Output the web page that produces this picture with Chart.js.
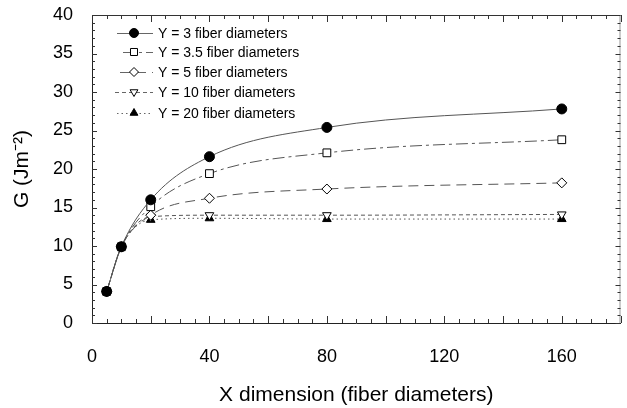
<!DOCTYPE html>
<html>
<head>
<meta charset="utf-8">
<script src="https://cdn.jsdelivr.net/npm/chart.js@4.4.0/dist/chart.umd.min.js"></script>
<style>
    html, body { margin: 0; padding: 0; background: #fff; }
    #wrap { width: 627px; height: 408px; }
</style>
</head>
<body>
<div id="wrap"><canvas id="chart" width="627" height="408"></canvas></div>
<script>
// x positions (fiber diameters)
const xValues = [5, 10, 20, 40, 80, 160];

const seriesNames = [
    'Y = 3 fiber diameters',
    'Y = 3.5 fiber diameters',
    'Y = 5 fiber diameters',
    'Y = 10 fiber diameters',
    'Y = 20 fiber diameters'
];

const gY3 = [4.1, 9.9, 16.0, 21.6, 25.4, 27.8];
const gY35 = [4.1, 9.9, 15.1, 19.4, 22.1, 23.8];
const gY5 = [4.1, 9.9, 14.0, 16.2, 17.4, 18.2];
const gY10 = [4.1, 9.9, 13.8, 14.0, 14.0, 14.1];
const gY20 = [4.1, 9.9, 13.4, 13.6, 13.5, 13.5];

const xTickLabels = [0, 40, 80, 120, 160];

const FONT = "'Liberation Sans', Arial, sans-serif";

const styles = [
    { dash: [], point: 'circle', fill: '#000', rot: 0, r: 5 },
    { dash: [12, 4, 3, 4], point: 'rect', fill: '#fff', rot: 0, r: 5.5 },
    { dash: [10, 6], point: 'rectRot', fill: '#fff', rot: 0, r: 5 },
    { dash: [4, 3], point: 'triangle', fill: '#fff', rot: 180, r: 5 },
    { dash: [1.5, 3], point: 'triangle', fill: '#000', rot: 0, r: 5 }
];

const allSeries = [gY3, gY35, gY5, gY10, gY20];

const datasets = allSeries.map((vals, i) => ({
    label: seriesNames[i],
    data: xValues.map((x, k) => ({ x: x, y: vals[k] })),
    borderColor: '#555',
    borderWidth: 1,
    borderDash: styles[i].dash,
    cubicInterpolationMode: 'monotone',
    pointStyle: styles[i].point,
    pointRotation: styles[i].rot,
    pointRadius: styles[i].r,
    pointBackgroundColor: styles[i].fill,
    pointBorderColor: '#000',
    pointBorderWidth: 1,
    fill: false
}));

// inward tick marks, frame and legend inside the plot
const decorations = {
    id: 'decorations',
    afterDraw(chart) {
        const ctx = chart.ctx;
        const area = chart.chartArea;
        const xs = chart.scales.x;
        const ys = chart.scales.y;
        ctx.save();
        ctx.strokeStyle = '#333';
        ctx.lineWidth = 1;
        ctx.setLineDash([]);

        // frame top / right
        ctx.beginPath();
        ctx.moveTo(area.left, area.top + 0.5);
        ctx.lineTo(area.right, area.top + 0.5);
        ctx.stroke();
        ctx.strokeStyle = '#999';
        ctx.beginPath();
        ctx.moveTo(area.right - 0.5, area.top);
        ctx.lineTo(area.right - 0.5, area.bottom);
        ctx.stroke();
        ctx.strokeStyle = '#333';

        // x ticks every 5, longer every 20
        for (let v = 0; v <= 180; v += 5) {
            const px = Math.round(xs.getPixelForValue(v)) + 0.5;
            const len = v % 20 === 0 ? 7 : 4;
            ctx.beginPath();
            ctx.moveTo(px, area.bottom);
            ctx.lineTo(px, area.bottom - len);
            ctx.moveTo(px, area.top);
            ctx.lineTo(px, area.top + len);
            ctx.stroke();
        }
        // y ticks every 1, longer every 5
        for (let v = 0; v <= 40; v += 1) {
            const py = Math.round(ys.getPixelForValue(v)) + 0.5;
            const len = v % 5 === 0 ? 5 : 3;
            ctx.beginPath();
            ctx.moveTo(area.left, py);
            ctx.lineTo(area.left + len, py);
            ctx.moveTo(area.right, py);
            ctx.lineTo(area.right - len, py);
            ctx.stroke();
        }

        // legend
        const rowsY = [33, 52, 72, 92, 113];
        const lineStart = [117, 123, 120, 115, 117];
        ctx.font = '14px ' + FONT;
        ctx.textBaseline = 'middle';
        ctx.textAlign = 'left';
        chart.data.datasets.forEach((ds, i) => {
            const y = rowsY[i];
            ctx.strokeStyle = '#666';
            ctx.setLineDash(styles[i].dash);
            ctx.beginPath();
            ctx.moveTo(lineStart[i], y + 0.5);
            ctx.lineTo(153, y + 0.5);
            ctx.stroke();
            ctx.setLineDash([]);
            ctx.fillStyle = styles[i].fill;
            ctx.strokeStyle = '#000';
            Chart.helpers.drawPoint(ctx, {
                pointStyle: styles[i].point,
                rotation: styles[i].rot,
                radius: styles[i].r * 0.9,
                borderWidth: 1
            }, 134, y);
            ctx.fillStyle = '#000';
            ctx.fillText(ds.label, 158, y + 1);
        });
        ctx.restore();
    }
};

new Chart(document.getElementById('chart'), {
    type: 'line',
    data: { datasets: datasets },
    options: {
        responsive: false,
        animation: false,
        layout: { padding: { top: 15, right: 2, left: 0, bottom: 0 } },
        plugins: {
            legend: { display: false },
            tooltip: { enabled: false }
        },
        scales: {
            x: {
                type: 'linear',
                min: 0,
                max: 180,
                afterBuildTicks: scale => {
                    scale.ticks = xTickLabels.map(v => ({ value: v }));
                },
                afterFit: scale => {
                    scale.height = 85;
                    scale.paddingLeft = 0;
                    scale.paddingRight = 0;
                },
                grid: { display: true, drawOnChartArea: false, drawTicks: false },
                border: { display: true, color: '#222', width: 1 },
                ticks: {
                    color: '#000',
                    padding: 23,
                    font: { family: FONT, size: 18 },
                    maxRotation: 0
                },
                title: {
                    display: true,
                    text: 'X dimension (fiber diameters)',
                    color: '#000',
                    font: { family: FONT, size: 21 },
                    padding: { top: 12, bottom: 0 }
                }
            },
            y: {
                type: 'linear',
                min: 0,
                max: 40,
                afterFit: scale => {
                    scale.width = 92;
                    scale.paddingTop = 0;
                    scale.paddingBottom = 0;
                },
                grid: { display: true, drawOnChartArea: false, drawTicks: false },
                border: { display: true, color: '#222', width: 1 },
                ticks: {
                    stepSize: 5,
                    color: '#000',
                    padding: 19,
                    font: { family: FONT, size: 18 }
                },
                title: {
                    display: true,
                    text: 'G (Jm\u207B\u00B2)',
                    color: '#000',
                    font: { family: FONT, size: 21 },
                    padding: { top: 10, bottom: 0 }
                }
            }
        }
    },
    plugins: [decorations]
});
</script>
</body>
</html>
